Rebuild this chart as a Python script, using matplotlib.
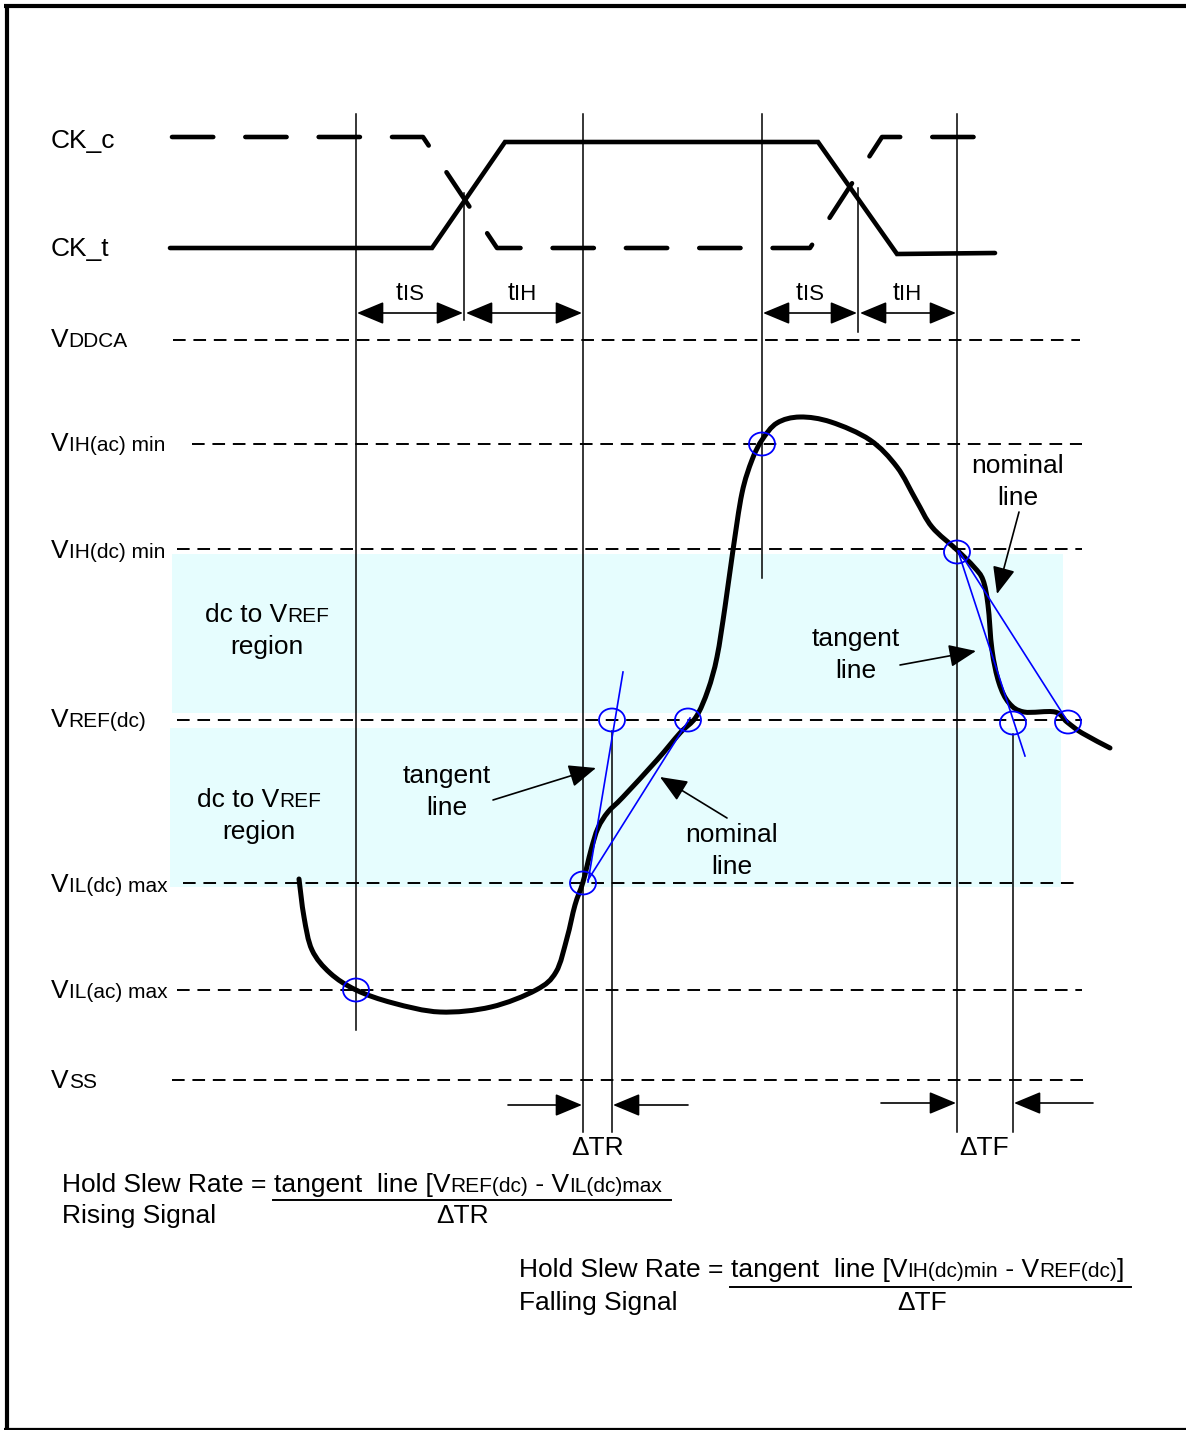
import matplotlib.pyplot as plt
import numpy as np
from matplotlib.patches import Ellipse, Rectangle, PathPatch
from matplotlib.path import Path

plt.rcParams['font.family'] = ['Liberation Sans', 'DejaVu Sans']

W, H = 1186, 1430
BIG, SMALL = 19, 15
BLUE = '#0000ff'
CYAN = '#e6fdfe'

# reference levels (y in pixels) and their labels
level_names = ['VDDCA', 'VIH(ac) min', 'VIH(dc) min', 'VREF(dc)', 'VIL(dc) max', 'VIL(ac) max', 'VSS']
level_parts = [[('V', BIG), ('DDCA', SMALL)],
               [('V', BIG), ('IH(ac) min', SMALL)],
               [('V', BIG), ('IH(dc) min', SMALL)],
               [('V', BIG), ('REF(dc)', SMALL)],
               [('V', BIG), ('IL(dc) max', SMALL)],
               [('V', BIG), ('IL(ac) max', SMALL)],
               [('V', BIG), ('SS', SMALL)]]
level_y = [340, 444, 549, 720, 883, 990, 1080]
level_x0 = [173, 192, 177, 177, 183, 177, 172]
level_x1 = [1080, 1082, 1082, 1082, 1075, 1082, 1085]
label_base = [347, 451, 558, 727, 892, 998, 1088]

# clocks
ckc_x = [172, 423, 497, 810, 882, 992]
ckc_y = [137, 137, 248, 248, 137, 137]
ckt_x = [170, 432, 505, 818, 897, 995]
ckt_y = [248, 248, 142, 142, 254, 253]

# input waveform
wave_x = [299, 304, 312, 330, 356, 393, 440, 491, 536, 556, 567, 575, 583, 591,
          598, 608, 623, 657, 680, 696, 708, 717, 725, 733, 742, 752, 762, 777, 800,
          831, 870, 897, 916, 932, 957, 974, 983, 988, 992, 999, 1009, 1024,
          1055, 1067, 1082, 1110]
wave_y = [879, 917, 950, 973, 990, 1003, 1012, 1007, 990, 972, 938, 905, 882, 850,
          828, 812, 797, 760, 733, 717, 690, 657, 607, 550, 493, 460, 440, 423, 417,
          422, 440, 467, 500, 527, 550, 567, 580, 605, 650, 683, 703, 712,
          712, 722, 733, 748]

# vertical timing markers: x, y top, y bottom
vert_x = [356, 464, 583, 612, 762, 858, 957, 1013]
vert_top = [114, 193, 114, 731, 114, 188, 114, 734]
vert_bot = [1030, 320, 1132, 1132, 578, 332, 1132, 1132]

# crossing markers
circ_x = [356, 583, 612, 688, 762, 957, 1013, 1068]
circ_y = [990, 883, 720, 720, 444, 552, 723, 722]

# tangent / nominal construction lines
blue_lines = [((588, 623), (882, 672)), ((588, 690), (880, 718)),
              ((958, 1025), (551, 756)), ((959, 1068), (551, 722))]

fig = plt.figure(figsize=(W / 100, H / 100), dpi=100)
ax = fig.add_axes([0, 0, 1, 1])
ax.set_xlim(0, W)
ax.set_ylim(H, 0)
ax.axis('off')
renderer = fig.canvas.get_renderer()


def rich(x, y, parts, ha='left', **kw):
    texts = [ax.text(0, y, s, fontsize=sz, va='baseline', ha='left', **kw) for s, sz in parts]
    widths = [t.get_window_extent(renderer).width for t in texts]
    x0 = x - sum(widths) / 2 if ha == 'center' else x
    for t, w in zip(texts, widths):
        t.set_x(x0)
        x0 += w
    return x0


def smooth_path(xs, ys):
    # Catmull-Rom through the points, as cubic bezier segments
    p = np.column_stack([xs, ys]).astype(float)
    ext = np.vstack([p[0], p, p[-1]])
    verts = [p[0]]
    codes = [Path.MOVETO]
    for i in range(1, len(ext) - 2):
        p0, p1, p2, p3 = ext[i - 1], ext[i], ext[i + 1], ext[i + 2]
        verts += [p1 + (p2 - p0) / 6, p2 - (p3 - p1) / 6, p2]
        codes += [Path.CURVE4] * 3
    return Path(verts, codes)


# frame
ax.plot([6.5, 6.5], [4, H], color='black', lw=3, solid_capstyle='butt')
ax.plot([4, W], [6, 6], color='black', lw=3, solid_capstyle='butt')
ax.plot([4, W], [1429, 1429], color='black', lw=1.6, solid_capstyle='butt')

# cyan regions
ax.add_patch(Rectangle((172, 554), 1063 - 172, 713 - 554, color=CYAN, lw=0, zorder=0))
ax.add_patch(Rectangle((170, 728), 1061 - 170, 887 - 728, color=CYAN, lw=0, zorder=0))

# level lines + labels
for parts, y, x0, x1, yb in zip(level_parts, level_y, level_x0, level_x1, label_base):
    ax.plot([x0, x1], [y, y], color='black', lw=1.4, dashes=(6.5, 4))
    rich(51, yb, parts)

ax.text(51, 148, 'CK_c', fontsize=BIG, va='baseline')
ax.text(51, 256, 'CK_t', fontsize=BIG, va='baseline')

# verticals
for x, y0, y1 in zip(vert_x, vert_top, vert_bot):
    ax.plot([x, x], [y0, y1], color='black', lw=1.1)

# clocks
ax.plot(ckc_x, ckc_y, color='black', lw=3.3, dashes=(9, 7), dash_capstyle='round')
ax.plot(ckt_x, ckt_y, color='black', lw=3.3, solid_joinstyle='miter', solid_capstyle='round')

# waveform
ax.add_patch(PathPatch(smooth_path(wave_x, wave_y), fill=False, ec='black', lw=3.6,
                       capstyle='round', joinstyle='round', zorder=5))

# blue constructions
for xs, ys in blue_lines:
    ax.plot(xs, ys, color=BLUE, lw=1.2, zorder=6)
for x, y in zip(circ_x, circ_y):
    ax.add_patch(Ellipse((x, y), 26, 23, fill=False, ec=BLUE, lw=1.3, zorder=7))

# timing arrows
arrow_kw = dict(arrowstyle='<|-|>,head_length=1.2,head_width=0.5', color='black', lw=1.2,
                shrinkA=0, shrinkB=0, mutation_scale=14)
for xa, xb in [(357, 463), (466, 582), (763, 857), (860, 956)]:
    ax.annotate('', xy=(xb, 313), xytext=(xa, 313), arrowprops=arrow_kw)
for cx, a, b in [(410, 't', 'IS'), (522, 't', 'IH'), (810, 't', 'IS'), (907, 't', 'IH')]:
    rich(cx, 300, [(a, 18), (b, 16)], ha='center')

# delta arrows
one_kw = dict(arrowstyle='-|>,head_length=1.2,head_width=0.5', color='black', lw=1.2,
              shrinkA=0, shrinkB=0, mutation_scale=14)
for (x0, x1, y) in [(508, 582, 1105), (688, 613, 1105), (881, 956, 1103), (1093, 1014, 1103)]:
    ax.annotate('', xy=(x1, y), xytext=(x0, y), arrowprops=one_kw)
ax.text(598, 1155, 'ΔTR', fontsize=BIG, ha='center', va='baseline')
ax.text(984, 1155, 'ΔTF', fontsize=BIG, ha='center', va='baseline')

# region labels
for cx, yb in [(267, 622), (259, 807)]:
    rich(cx, yb, [('dc to V', BIG), ('REF', SMALL)], ha='center')
    ax.text(cx, yb + 32, 'region', fontsize=BIG, ha='center', va='baseline')

# annotation labels with arrows
notes = [('tangent\nline', 447, 783, (493, 800), (596, 768)),
         ('nominal\nline', 732, 842, (727, 818), (660, 777)),
         ('tangent\nline', 856, 646, (900, 665), (976, 651)),
         ('nominal\nline', 1018, 473, (1019, 512), (997, 594))]
for txt, cx, yb, p0, p1 in notes:
    a, b = txt.split('\n')
    ax.text(cx, yb, a, fontsize=BIG, ha='center', va='baseline')
    ax.text(cx, yb + 32, b, fontsize=BIG, ha='center', va='baseline')
    ax.annotate('', xy=p1, xytext=p0, arrowprops=one_kw)

# formulas
xe = rich(62, 1192, [('Hold Slew Rate = ', BIG)])
rich(xe, 1192, [('tangent  line [V', BIG), ('REF(dc)', SMALL), (' - V', BIG), ('IL(dc)max', SMALL)])
ax.plot([273, 671], [1200, 1200], color='black', lw=1.4)
ax.text(62, 1223, 'Rising Signal', fontsize=BIG, va='baseline')
ax.text(463, 1223, 'ΔTR', fontsize=BIG, ha='center', va='baseline')

xe = rich(519, 1277, [('Hold Slew Rate = ', BIG)])
rich(xe, 1277, [('tangent  line [V', BIG), ('IH(dc)min', SMALL), (' - V', BIG), ('REF(dc)', SMALL), (']', BIG)])
ax.plot([730, 1131], [1287, 1287], color='black', lw=1.4)
ax.text(519, 1310, 'Falling Signal', fontsize=BIG, va='baseline')
ax.text(922, 1310, 'ΔTF', fontsize=BIG, ha='center', va='baseline')

fig.savefig('out.png', dpi=100)
